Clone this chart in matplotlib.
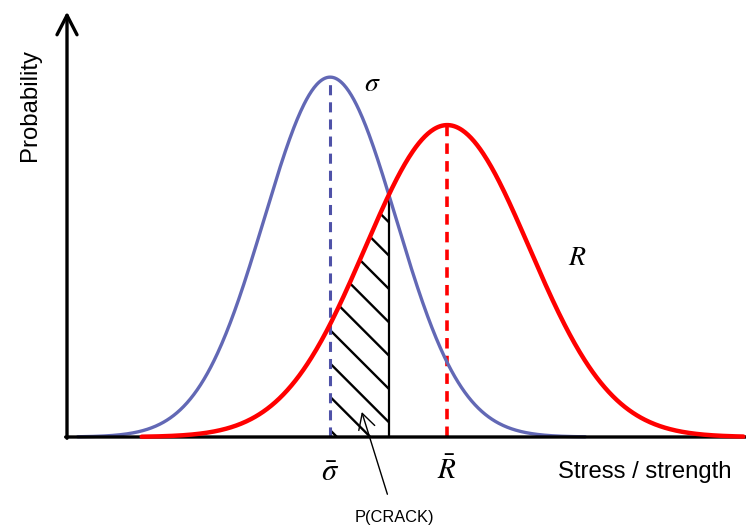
import numpy as np
import matplotlib
matplotlib.use("Agg")
import matplotlib.pyplot as plt

# ---- data (x in stress units, y in relative probability) ----
stress_mean, stress_sd, stress_peak = 3.91, 0.98, 0.863
strength_mean, strength_sd, strength_peak = 5.65, 1.22, 0.748
stress_range = [0.16, 7.70]
strength_range = [1.11, 10.05]

x_label = "Stress / strength"
y_label = "Probability"
stress_label = r"$\sigma$"
strength_label = r"$R$"
stress_mean_label = r"$\bar{\sigma}$"
strength_mean_label = r"$\bar{R}$"
crack_label = "P(CRACK)"

def bell(x, m, s, p):
    return p * np.exp(-0.5 * ((x - m) / s) ** 2)

plt.rcParams['mathtext.fontset'] = 'stix'
plt.rcParams['hatch.linewidth'] = 0.85

DPI = 200
fig = plt.figure(figsize=(746 / DPI, 528 / DPI), dpi=DPI)
ax = fig.add_axes([67 / 746, (528 - 437) / 528, 673 / 746, 417 / 528])
ax.set_xlim(0, 10)
ax.set_ylim(0, 1)
ax.axis('off')

blue = '#6268b5'
blue_dash = '#4f52a8'
red = '#ff0000'

xs = np.linspace(stress_range[0], stress_range[1], 600)
xr = np.linspace(strength_range[0], strength_range[1], 600)
ax.plot(xs, bell(xs, stress_mean, stress_sd, stress_peak), color=blue, lw=1.2,
        solid_capstyle='round', zorder=3, clip_on=False)
ax.plot(xr, bell(xr, strength_mean, strength_sd, strength_peak), color=red, lw=1.6,
        solid_capstyle='round', zorder=4, clip_on=False)

# mean lines
ax.plot([stress_mean, stress_mean], [0, stress_peak], color=blue_dash, lw=1.1,
        dashes=(3.3, 2.3), zorder=2)
ax.plot([strength_mean, strength_mean], [0, strength_peak], color=red, lw=1.3,
        dashes=(2.9, 2.0), zorder=2)

# intersection of the two curves between the means
xg = np.linspace(stress_mean, strength_mean, 2000)
diff = bell(xg, stress_mean, stress_sd, stress_peak) - bell(xg, strength_mean, strength_sd, strength_peak)
x_cross = xg[np.argmin(np.abs(diff))]
y_cross = bell(x_cross, strength_mean, strength_sd, strength_peak)

xh = np.linspace(stress_mean, x_cross, 200)
ax.fill_between(xh, 0, bell(xh, strength_mean, strength_sd, strength_peak),
                facecolor='none', edgecolor='black', hatch='\\\\', linewidth=0, zorder=1)
ax.plot([x_cross, x_cross], [0, y_cross], color='black', lw=0.8, zorder=2)

# axes with arrows
arrow_kw = dict(arrowstyle='->,head_length=0.7,head_width=0.36', lw=1.2, color='black',
                mutation_scale=10, shrinkA=0, shrinkB=0)
ax.annotate('', xy=(0, 1.02), xytext=(0, -0.003), xycoords='axes fraction',
            textcoords='axes fraction', arrowprops=arrow_kw, annotation_clip=False)
ax.annotate('', xy=(1.045, 0), xytext=(-0.002, 0), xycoords='axes fraction',
            textcoords='axes fraction', arrowprops=arrow_kw, annotation_clip=False)

# labels
fig.text(30 / 746, 1 - 105 / 528, y_label, rotation=90, ha='center', va='center',
         fontsize=8.6, family='Liberation Sans')
fig.text(558 / 746, 1 - 472 / 528, x_label, ha='left', va='center',
         fontsize=8.6, family='Liberation Sans')

ax.text(stress_mean, -0.085, stress_mean_label, ha='center', va='center', fontsize=11)
ax.text(strength_mean, -0.08, strength_mean_label, ha='center', va='center', fontsize=10.5)
ax.text(4.53, 0.85, stress_label, ha='center', va='center', fontsize=10)
ax.text(7.59, 0.432, strength_label, ha='center', va='center', fontsize=10)

ax.annotate(crack_label, xy=(4.38, 0.06), xytext=(4.87, -0.194),
            ha='center', va='center', fontsize=5.9, family='Liberation Sans',
            arrowprops=dict(arrowstyle='->,head_length=0.55,head_width=0.3', lw=0.5,
                            color='black', mutation_scale=10, shrinkA=4, shrinkB=0),
            annotation_clip=False)

fig.savefig('out.png', dpi=DPI)
